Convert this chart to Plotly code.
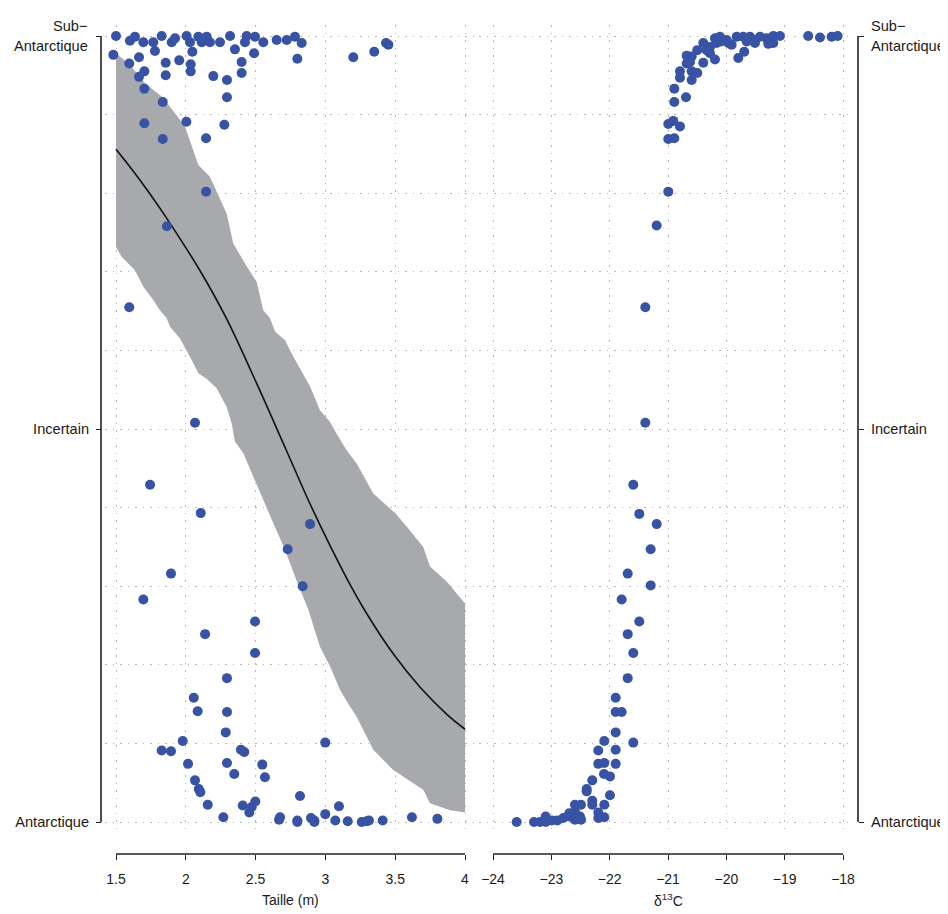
import plotly.graph_objects as go

# ---------------- data ----------------
# Left panel: body length (m) vs probability of Sub-Antarctic origin
taille_x = [1.5, 1.481, 1.600, 1.636, 1.696, 1.767, 1.779, 1.827, 1.899, 1.923, 2.006, 2.030,
            2.047, 2.090, 2.114, 2.150, 2.173, 2.245, 2.317, 2.352, 2.436, 2.424, 2.496, 2.555,
            2.651, 2.723, 2.782, 2.830, 2.799, 2.489, 2.400, 2.400, 2.295, 2.295, 2.197, 2.035,
            2.035, 1.953, 1.856, 1.856, 1.665, 1.595, 1.703, 1.665, 1.703, 1.835, 1.703, 2.004,
            2.276, 1.835, 2.145, 2.145, 1.865, 1.595, 3.200, 3.350, 3.434, 3.451,
            2.066, 1.744, 2.107, 2.890, 2.730, 1.894, 2.837, 1.696, 2.496, 2.138, 2.496, 2.295,
            2.057, 2.085, 2.295, 2.286, 1.978, 2.999, 1.827, 1.894, 2.395, 2.419, 2.016, 2.295,
            2.548, 2.347, 2.567, 2.066, 2.093, 2.104, 2.818, 2.157, 2.408, 2.498, 2.472, 2.455,
            3.097, 2.269, 2.675, 2.668, 2.799, 2.799, 2.897, 2.921, 2.921, 2.999, 3.071, 3.160,
            3.260, 3.296, 3.312, 3.410, 3.620, 3.802]
taille_p = [1.0, 0.976, 0.994, 0.999, 0.992, 0.992, 0.981, 1.0, 0.992, 0.997, 1.0, 0.992,
            0.980, 0.999, 0.992, 0.999, 0.992, 0.992, 1.0, 0.983, 1.0, 0.992, 0.999, 0.992,
            0.995, 0.995, 0.999, 0.991, 0.971, 0.978, 0.967, 0.953, 0.944, 0.922, 0.949, 0.964,
            0.955, 0.969, 0.966, 0.950, 0.973, 0.965, 0.955, 0.948, 0.933, 0.916, 0.889, 0.891,
            0.887, 0.869, 0.870, 0.802, 0.758, 0.655, 0.973, 0.980, 0.991, 0.989,
            0.508, 0.429, 0.393, 0.379, 0.347, 0.316, 0.300, 0.283, 0.255, 0.239, 0.215, 0.183,
            0.158, 0.141, 0.140, 0.114, 0.103, 0.101, 0.091, 0.090, 0.092, 0.089, 0.074, 0.075,
            0.073, 0.061, 0.057, 0.053, 0.042, 0.038, 0.033, 0.022, 0.021, 0.026, 0.019, 0.012,
            0.020, 0.006, 0.006, 0.003, 0.002, 0.000, 0.005, 0.002, 0.000, 0.010, 0.002, 0.001,
            0.000, 0.001, 0.002, 0.002, 0.006, 0.004]

# Fitted curve and its confidence band (left panel)
curve_x = [1.5, 1.62, 1.74, 1.86, 2.10, 2.29, 2.51, 2.72, 2.91, 3.15, 3.30, 3.49, 3.68, 3.87, 4.0]
curve_y = [0.856, 0.829, 0.800, 0.769, 0.702, 0.641, 0.557, 0.473, 0.397, 0.311, 0.264, 0.213,
           0.171, 0.137, 0.118]

band_upper_x = [1.5, 1.6, 1.708, 1.827, 1.887, 1.994, 2.09, 2.173, 2.293, 2.34, 2.436, 2.508,
                2.555, 2.603, 2.639, 2.711, 2.758, 2.89, 2.961, 3.033, 3.093, 3.152, 3.224,
                3.343, 3.499, 3.582, 3.701, 3.749, 3.869, 4.0]
band_upper_y = [0.978, 0.963, 0.94, 0.923, 0.91, 0.885, 0.836, 0.821, 0.774, 0.736, 0.707, 0.687,
                0.651, 0.641, 0.624, 0.613, 0.596, 0.554, 0.524, 0.509, 0.49, 0.473, 0.456,
                0.418, 0.393, 0.376, 0.35, 0.325, 0.306, 0.278]
band_lower_x = [1.5, 1.54, 1.636, 1.696, 1.767, 1.815, 1.863, 1.887, 1.958, 2.03, 2.09, 2.149,
                2.221, 2.293, 2.329, 2.352, 2.412, 2.496, 2.555, 2.627, 2.711, 2.80, 2.878,
                2.961, 3.033, 3.105, 3.176, 3.224, 3.343, 3.486, 3.701, 3.749, 3.893, 4.0]
band_lower_y = [0.732, 0.719, 0.702, 0.681, 0.664, 0.651, 0.641, 0.630, 0.615, 0.592, 0.571, 0.564,
                0.552, 0.528, 0.507, 0.484, 0.469, 0.435, 0.41, 0.38, 0.346, 0.304, 0.27,
                0.223, 0.198, 0.168, 0.147, 0.134, 0.092, 0.066, 0.041, 0.024, 0.015, 0.012]

# Right panel: delta13C vs probability
d13c_x = [-20.995, -20.910, -20.795, -20.995, -20.892, -20.995, -21.194, -21.389, -21.389,
          -21.595, -21.492, -21.194, -21.297, -21.691, -21.297, -21.794, -21.492, -21.691,
          -21.595, -21.691,
          -23.594, -23.297, -23.194, -23.097, -23.097, -22.994, -22.898, -22.795, -22.692,
          -22.692, -22.595, -22.492, -22.595, -22.595, -22.509, -22.492, -22.298, -22.394,
          -22.394, -22.298, -22.298, -22.195, -22.195, -22.092, -22.092, -21.995, -22.097,
          -21.995, -22.195, -22.092, -21.897, -22.195, -21.897, -22.092, -21.595, -21.897,
          -21.897, -21.794, -21.897,
          -20.892, -20.892, -20.692, -20.795, -20.795, -20.594, -20.498, -20.594, -20.680,
          -20.680, -20.594, -20.623, -20.395, -20.498, -20.395, -20.337, -20.280, -20.195,
          -20.195, -20.109, -20.092, -19.994, -19.909, -19.795, -19.693, -19.823, -19.710,
          -19.595, -19.509, -19.509, -19.423, -19.309, -19.281, -19.195, -19.195, -19.081,
          -18.596, -18.395, -18.195, -18.092, -20.280, -20.166, -19.967, -19.651]
d13c_p = [0.888, 0.892, 0.885, 0.869, 0.870, 0.802, 0.759, 0.655, 0.508,
          0.429, 0.392, 0.379, 0.347, 0.316, 0.301, 0.283, 0.255, 0.239,
          0.215, 0.183,
          0.000, 0.000, 0.000, 0.007, 0.000, 0.002, 0.002, 0.005, 0.011,
          0.007, 0.022, 0.022, 0.013, 0.003, 0.007, 0.003, 0.053, 0.042,
          0.039, 0.027, 0.022, 0.012, 0.005, 0.022, 0.006, 0.034, 0.061,
          0.058, 0.074, 0.075, 0.074, 0.091, 0.092, 0.103, 0.101, 0.114,
          0.140, 0.140, 0.158,
          0.916, 0.933, 0.922, 0.955, 0.947, 0.944, 0.953, 0.955, 0.965,
          0.975, 0.974, 0.967, 0.966, 0.982, 0.991, 0.982, 0.978, 0.970,
          0.997, 0.999, 0.993, 0.995, 0.989, 0.972, 0.980, 0.999, 0.999,
          0.999, 0.995, 0.991, 0.999, 0.997, 0.990, 1.0, 0.991, 1.0,
          1.0, 0.998, 0.999, 1.0, 0.986, 0.991, 0.991, 0.993]

x1_ticks = [1.5, 2, 2.5, 3, 3.5, 4]
x1_labels = ["1.5", "2", "2.5", "3", "3.5", "4"]
x2_ticks = [-24, -23, -22, -21, -20, -19, -18]
y_ticks = [0, 0.5, 1]
y_labels = ["Antarctique", "Incertain", ""]
top_label_lines = ["Sub\u2212", "Antarctique"]

# ---------------- styling ----------------
# the page body has an 8px margin, so the figure starts at (8, 8) in the window
OFF = 8
FW, FH = 940, 906
DOT = "#3953A4"
BAND = "#A7A9AC"
GRID = "#B8B8B8"
GRID_DASH = "1.5px,6px"
AX = "#222222"
FAMILY = "Liberation Sans, Arial, sans-serif"
YFONT = dict(family=FAMILY, size=14.6, color="#1a1a1a")
XFONT = dict(family=FAMILY, size=14, color="#1a1a1a")


def px_x(p):
    return (p - OFF) / FW


def px_y(p):
    return 1 - (p - OFF) / FH


fig = go.Figure()

band_x = band_upper_x + band_lower_x[::-1]
band_y = band_upper_y + band_lower_y[::-1]
fig.add_trace(go.Scatter(x=band_x, y=band_y, fill="toself", fillcolor=BAND,
                         line=dict(width=0), mode="lines", hoverinfo="skip",
                         showlegend=False, xaxis="x", yaxis="y"))
fig.add_trace(go.Scatter(x=curve_x, y=curve_y, mode="lines",
                         line=dict(color="#111111", width=1.6, shape="spline", smoothing=1.0),
                         showlegend=False, xaxis="x", yaxis="y"))
fig.add_trace(go.Scatter(x=taille_x, y=taille_p, mode="markers",
                         marker=dict(color=DOT, size=10), showlegend=False,
                         xaxis="x", yaxis="y", cliponaxis=False))
fig.add_trace(go.Scatter(x=d13c_x, y=d13c_p, mode="markers",
                         marker=dict(color=DOT, size=10), showlegend=False,
                         xaxis="x2", yaxis="y", cliponaxis=False))
fig.add_trace(go.Scatter(x=[None], y=[None], mode="markers", showlegend=False,
                         hoverinfo="skip", xaxis="x2", yaxis="y2"))

# plot-area geometry (window pixels)
y_top, y_bot = 25, 835
y_range = [(822 - y_bot) / 786, (822 - y_top) / 786]
ydom = [px_y(y_bot), px_y(y_top)]
xaxis_pos = px_y(854)
split = 479

common_x = dict(anchor="free", position=xaxis_pos, showline=False, zeroline=False,
                ticks="outside", ticklen=5, tickwidth=1.2, tickcolor=AX,
                showgrid=True, gridcolor=GRID, griddash=GRID_DASH, gridwidth=1,
                tickfont=XFONT, automargin=False, ticklabelstandoff=7)

fig.update_layout(
    width=FW, height=FH,
    margin=dict(l=0, r=0, t=0, b=0),
    paper_bgcolor="white", plot_bgcolor="white",
    font=XFONT,
    xaxis=dict(domain=[px_x(105), px_x(split)],
               range=[1.5 - 11 / 139.6, 4 + (split - 465) / 139.6],
               tickvals=x1_ticks, ticktext=x1_labels, **common_x),
    xaxis2=dict(domain=[px_x(split), px_x(853)],
                range=[-24 - (493 - split) / 58.33, -18 + 10 / 58.33],
                tickvals=x2_ticks, **common_x),
    yaxis=dict(domain=ydom, range=y_range, anchor="free", position=px_x(101),
               side="left", tickvals=y_ticks, ticktext=y_labels,
               ticks="outside", ticklen=5, tickwidth=1.2, tickcolor=AX,
               showline=False, zeroline=False,
               showgrid=True, gridcolor=GRID, griddash=GRID_DASH, gridwidth=1,
               minor=dict(dtick=0.1, tick0=0, showgrid=True, gridcolor=GRID,
                          griddash=GRID_DASH, gridwidth=1, ticks=""),
               tickfont=YFONT, automargin=False, ticklabelstandoff=4),
    yaxis2=dict(domain=ydom, range=y_range, overlaying="y", anchor="free",
                position=px_x(858), side="right", tickvals=y_ticks, ticktext=y_labels,
                ticks="outside", ticklen=5, tickwidth=1.2, tickcolor=AX,
                showline=False, zeroline=False, showgrid=False,
                tickfont=YFONT, automargin=False, ticklabelstandoff=4),
)

# R-style axis lines spanning only the tick range
for xp in (101, 858):
    fig.add_shape(type="line", xref="paper", yref="y", x0=px_x(xp), x1=px_x(xp), y0=0, y1=1,
                  line=dict(color=AX, width=1.6))
fig.add_shape(type="line", xref="x", yref="paper", x0=1.5, x1=4, y0=xaxis_pos, y1=xaxis_pos,
              line=dict(color=AX, width=1.6))
fig.add_shape(type="line", xref="x2", yref="paper", x0=-24, x1=-18, y0=xaxis_pos, y1=xaxis_pos,
              line=dict(color=AX, width=1.6))

# two-line "Sub−Antarctique" labels on both sides
for xp, anchor, shift in ((101, "right", -11), (858, "left", 11)):
    for text, ys in zip(top_label_lines, (10, -10)):
        fig.add_annotation(text=text, xref="paper", yref="y", x=px_x(xp), y=1,
                           xanchor=anchor, yanchor="middle", xshift=shift, yshift=ys,
                           showarrow=False, font=YFONT)

fig.add_annotation(text="Taille (m)", xref="x", yref="paper", x=2.75, y=px_y(900),
                   showarrow=False, font=XFONT, yanchor="middle")
fig.add_annotation(text="\u03b4<sup>13</sup>C", xref="x2", yref="paper", x=-21, y=px_y(900),
                   showarrow=False, font=XFONT, yanchor="middle")

fig.write_html("out.html")
